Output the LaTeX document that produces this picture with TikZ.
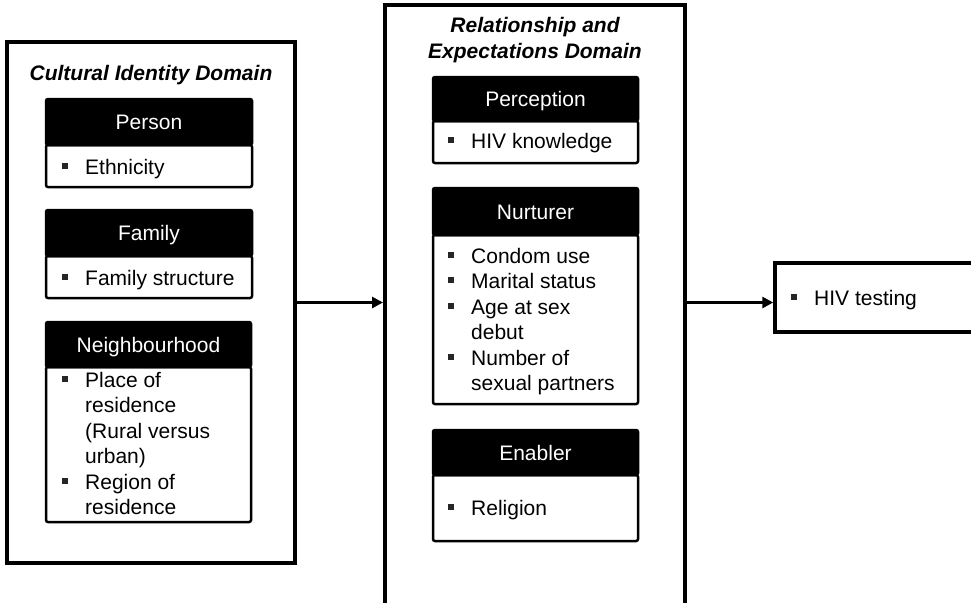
\documentclass[tikz,border=0pt]{standalone}
\usepackage{fontspec}
\setmainfont{Liberation Sans}
\usetikzlibrary{arrows.meta}
\newcommand{\bul}{\makebox[23pt][l]{\raisebox{5.2pt}{\textcolor{black!85}{\rule{6pt}{6pt}}}}}
\newcommand{\ind}{\hspace*{23pt}}
\tikzset{
  outerbox/.style={draw, line width=4pt, fill=white, inner sep=0pt},
  hdr/.style={draw, fill=black, text=white, line width=2.5pt, rounded corners=2pt, text height=15pt, text depth=0pt, inner sep=0pt},
  bodyb/.style={draw, fill=white, line width=2.5pt, rounded corners=2pt, inner sep=0pt},
  items/.style={anchor=base west, inner sep=0pt},
  ttl/.style={anchor=base, inner sep=0pt, font=\fontsize{21}{25.5}\selectfont\bfseries\itshape},
  arr/.style={line width=3pt, -{Triangle[length=11pt,width=11pt]}}
}
\begin{document}
\begin{tikzpicture}[x=1pt,y=-1pt,font=\fontsize{21}{25.5}\selectfont]
\useasboundingbox (0,0) rectangle (971,602);
% outer boxes
\node[outerbox, minimum width=288pt, minimum height=521pt] (cid) at (151,302.5) {};
\node[outerbox, minimum width=300pt, minimum height=635pt] (red) at (535,322.5) {};
\node[outerbox, line width=3.5pt, minimum width=225pt, minimum height=69pt] (hiv) at (887.5,297.5) {};
% titles
\node[ttl] (cidt) at (151,80) {Cultural Identity Domain};
\node[ttl] (redt) at (535,33) {\parbox[t]{300pt}{\centering Relationship and\\Expectations Domain}};
% left column
\node[bodyb, minimum width=206pt, minimum height=42pt] (personb) at (149,166) {};
\node[hdr, minimum width=206pt, minimum height=46pt] (person) at (149,122) {Person};
\node[items] (personi) at (62,174) {\bul Ethnicity};
\node[bodyb, minimum width=206pt, minimum height=42pt] (familyb) at (149,277) {};
\node[hdr, minimum width=206pt, minimum height=46pt] (family) at (149,233) {Family};
\node[items] (familyi) at (62,285) {\bul Family structure};
\node[bodyb, minimum width=205pt, minimum height=155pt] (neighb) at (148.5,444.5) {};
\node[hdr, minimum width=205pt, minimum height=45pt] (neigh) at (148.5,344.5) {Neighbourhood};
\node[items] (neighi) at (62,387) {\parbox[t]{185pt}{\raggedright\bul Place of\\\ind residence\\\ind (Rural versus\\\ind urban)\\\bul Region of\\\ind residence}};
% middle column
\node[bodyb, minimum width=205pt, minimum height=42pt] (percb) at (535.5,142) {};
\node[hdr, minimum width=205pt, minimum height=44pt] (perc) at (535.5,99) {Perception};
\node[items] (perci) at (448,148) {\bul HIV knowledge};
\node[bodyb, minimum width=205pt, minimum height=169pt] (nurtb) at (535.5,319.5) {};
\node[hdr, minimum width=205pt, minimum height=47pt] (nurt) at (535.5,211.5) {Nurturer};
\node[items] (nurti) at (448,263) {\parbox[t]{185pt}{\raggedright\bul Condom use\\\bul Marital status\\\bul Age at sex\\\ind debut\\\bul Number of\\\ind sexual partners}};
\node[bodyb, minimum width=205pt, minimum height=66pt] (enabb) at (535.5,508) {};
\node[hdr, minimum width=205pt, minimum height=45pt] (enab) at (535.5,452.5) {Enabler};
\node[items] (enabi) at (448,515) {\bul Religion};
% outcome
\node[items] (hivi) at (791,305) {\bul HIV testing};
% arrows
\draw[arr] (cid.east) -- (red.west |- cid.east);
\draw[arr] (red.east |- cid.east) -- (hiv.west |- cid.east);
\end{tikzpicture}
\end{document}
